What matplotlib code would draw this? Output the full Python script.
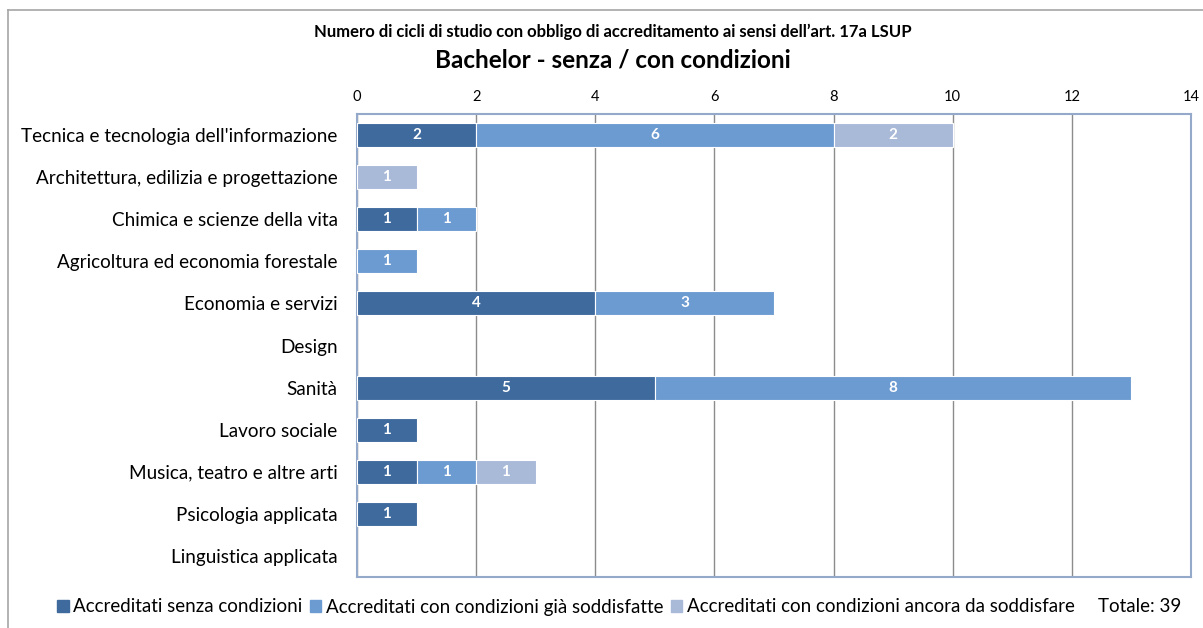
import numpy as np
import matplotlib.pyplot as plt
from matplotlib.lines import Line2D
from matplotlib.patches import Patch

plt.rcParams['font.family'] = ['Lato', 'DejaVu Sans']

categorie = ["Tecnica e tecnologia dell'informazione",
             "Architettura, edilizia e progettazione",
             "Chimica e scienze della vita",
             "Agricoltura ed economia forestale",
             "Economia e servizi",
             "Design",
             "Sanità",
             "Lavoro sociale",
             "Musica, teatro e altre arti",
             "Psicologia applicata",
             "Linguistica applicata"]
senza = [2, 0, 1, 0, 4, 0, 5, 1, 1, 1, 0]
con_sodd = [6, 0, 1, 1, 3, 0, 8, 0, 1, 0, 0]
con_ancora = [2, 1, 0, 0, 0, 0, 0, 0, 1, 0, 0]
serie = ["Accreditati senza condizioni",
         "Accreditati con condizioni già soddisfatte",
         "Accreditati con condizioni ancora da soddisfare"]
colori = ['#3F6A9E', '#6C9BD2', '#A9B9D8']
totale = sum(senza) + sum(con_sodd) + sum(con_ancora)

fig = plt.figure(figsize=(12.03, 6.28), dpi=100)
ax = fig.add_axes([357/1203, 1 - 577/628, (1191-357)/1203, (577-114)/628])

y = np.arange(len(categorie))
left = np.zeros(len(categorie))
for vals, col in zip([senza, con_sodd, con_ancora], colori):
    vals = np.array(vals)
    m = vals > 0
    ax.barh(y[m], vals[m], left=left[m], height=0.57, color=col, edgecolor='white', linewidth=0.8, zorder=3)
    for yi, v, l in zip(y[m], vals[m], left[m]):
        ax.text(l + v/2, yi, str(v), ha='center', va='center', color='white',
                fontsize=11, fontweight='bold', zorder=4)
    left += vals

ax.set_xlim(0, 14)
ax.set_ylim(len(categorie) - 0.5, -0.5)
ax.set_xticks(range(0, 15, 2))
ax.xaxis.tick_top()
ax.tick_params(axis='x', length=0, labelsize=10.5, pad=7)
ax.tick_params(axis='y', length=0, labelsize=13.6, pad=14)
ax.set_yticks(y)
ax.set_yticklabels(categorie)
ax.grid(axis='x', color='#8C8C8C', linewidth=1, zorder=0)
for s in ax.spines.values():
    s.set_color('#95A9CB')
    s.set_linewidth(1.5)

fig.text(0.5095, 1 - 32/628, "Numero di cicli di studio con obbligo di accreditamento ai sensi dell\u2019art. 17a LSUP",
         ha='center', va='center', fontsize=12, fontweight='bold')
fig.text(0.5095, 1 - 60/628, "Bachelor - senza / con condizioni",
         ha='center', va='center', fontsize=17.5, fontweight='bold')

handles = [Patch(color=c) for c in colori] + [Patch(color='none')]
labels = serie + ["Totale: %d" % totale]
fig.legend(handles, labels, loc='center', bbox_to_anchor=(0.515, 1 - 607/628), ncol=4,
           frameon=False, fontsize=13.5, handlelength=0.6, handleheight=0.6,
           handletextpad=0.25, columnspacing=0.4)

fig.add_artist(Line2D([8/1203, 8/1203], [0, 1 - 10/628], color='#A6A6A6', linewidth=1.2))
fig.add_artist(Line2D([8/1203, 1], [1 - 10/628, 1 - 10/628], color='#A6A6A6', linewidth=1.2))

fig.savefig('out.png', dpi=100)
